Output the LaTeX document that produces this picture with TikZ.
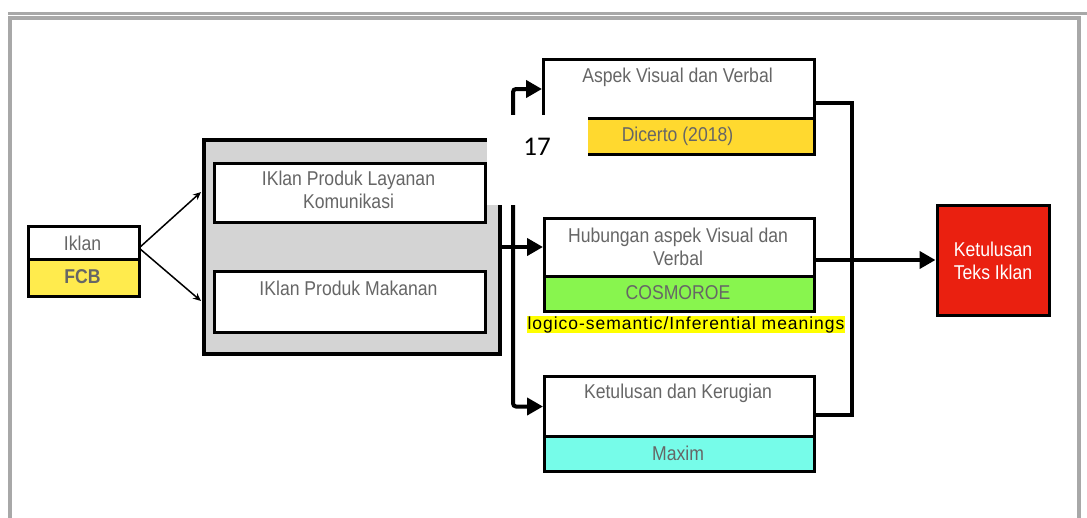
\documentclass[tikz,border=0pt]{standalone}
\usepackage{fontspec}
\setmainfont{Liberation Sans}
\newfontfamily\narrowsans{Liberation Sans}[FakeStretch=0.88]
\newfontfamily\spacedsans{Liberation Sans}[LetterSpace=5.5]
\newfontfamily\numfont{Carlito}
\usetikzlibrary{arrows.meta}

\definecolor{txtgray}{HTML}{666666}
\definecolor{fcbyellow}{HTML}{FFEB4D}
\definecolor{dicyellow}{HTML}{FFD92F}
\definecolor{cosgreen}{HTML}{88F54E}
\definecolor{maxcyan}{HTML}{76FCE9}
\definecolor{redbox}{HTML}{EA2010}
\definecolor{panelgray}{HTML}{D4D4D4}
\definecolor{framegray}{HTML}{A8A8A8}
\definecolor{hlyellow}{HTML}{FFFF00}

\tikzset{
  box/.style={draw=black, line width=3pt, inner sep=0pt},
  lbl/.style={text=txtgray, font=\fontsize{20}{23}\selectfont\narrowsans, align=center, inner sep=0pt},
  conn/.style={draw=black, line width=4pt},
  bigtip/.style={-{Triangle[length=16pt,width=17pt]}},
  thinconn/.style={draw=black, line width=1.5pt, -{Stealth[length=8pt,width=7pt]}},
}

\begin{document}
\begin{tikzpicture}[x=1pt, y=-1pt]
\useasboundingbox (0,0) rectangle (1087,517);

% outer frame
\draw[framegray, line width=3pt] (8,13) -- (1087,13);
\draw[framegray, line width=4pt] (10,518) -- (10,18) -- (1079,18) -- (1079,518);

% source box
\node[box, fill=white, minimum width=111pt, minimum height=33pt, anchor=north west] (iklan) at (27,225) {};
\node[box, fill=fcbyellow, minimum width=111pt, minimum height=37pt, anchor=north west] (fcb) at (27,258) {};
\node[lbl] (iklanT) at (82.5,243) {Iklan};
\node[lbl, font=\fontsize{20}{23}\selectfont\narrowsans\bfseries] (fcbT) at (82.5,277) {FCB};

% grey panel with the two product types
\fill[black!25] (205,141) rectangle (501,355);
\node[draw=black, line width=4pt, fill=panelgray, minimum width=296pt, minimum height=214pt, anchor=north west, inner sep=0pt] (panel) at (202,138) {};
\node[box, fill=white, minimum width=271pt, minimum height=59pt, anchor=north west] (layanan) at (213,162) {};
\node[box, fill=white, minimum width=271pt, minimum height=61pt, anchor=north west] (makanan) at (213,270) {};
\node[lbl] (layananT) at (348.5,190) {IKlan Produk Layanan\\Komunikasi};
\node[lbl] (makananT) at (348.5,288) {IKlan Produk Makanan};

\coordinate (iklanOut) at (139,248);
\coordinate (panelInA) at (201,192);
\coordinate (panelInB) at (201,301);
\draw[thinconn] (iklanOut) -- (panelInA);
\draw[thinconn] (iklanOut) -- (panelInB);

% right-hand aspect boxes
\node[box, fill=white, minimum width=271pt, minimum height=59pt, anchor=north west] (aspek) at (542,58) {};
\node[box, fill=dicyellow, minimum width=271pt, minimum height=36pt, anchor=north west] (dicerto) at (542,117) {};
\node[lbl] (aspekT) at (677.5,77) {Aspek Visual dan Verbal};
\node[lbl] (dicertoT) at (677.5,136) {Dicerto (2018)};

\node[box, fill=white, minimum width=270pt, minimum height=58pt, anchor=north west] (hub) at (543,217) {};
\node[box, fill=cosgreen, minimum width=270pt, minimum height=35pt, anchor=north west] (cosmo) at (543,275) {};
\node[lbl] (hubT) at (678,247) {Hubungan aspek Visual dan\\Verbal};
\node[lbl] (cosmoT) at (678,293) {COSMOROE};
\node[fill=hlyellow, inner sep=0pt, minimum width=318pt, minimum height=15pt, font=\fontsize{17.5}{18}\selectfont\spacedsans] (logico) at (686,324.5) {logico-semantic/Inferential meanings};

\node[box, fill=white, minimum width=270pt, minimum height=60pt, anchor=north west] (ketul) at (543,375) {};
\node[box, fill=maxcyan, minimum width=270pt, minimum height=35pt, anchor=north west] (maxim) at (543,435) {};
\node[lbl] (ketulT) at (678,393) {Ketulusan dan Kerugian};
\node[lbl] (maximT) at (678,453) {Maxim};

% result box
\node[box, fill=redbox, minimum width=112pt, minimum height=110pt] (result) at (993,260) {};
\node[lbl, text=white] (resultT) at (993,260.5) {Ketulusan\\Teks Iklan};

% distribution lines
\coordinate (bus) at (513,245);
\draw[conn, bigtip] (panel.east) -- (panel.east -| hub.west);
\draw[conn, bigtip, rounded corners=3pt] (bus) |- (aspek.west);
\draw[conn, bigtip, rounded corners=3pt] (bus) |- (ketul.west);

% collecting lines
\coordinate (aspekOut) at (813,103);
\coordinate (ketulOut) at (813,415);
\coordinate (colBot) at (852,415);
\coordinate (hubOut) at (813,260);
\draw[conn] (aspekOut) -| (colBot) -- (ketulOut);
\draw[conn, bigtip] (hubOut) -- (result.west);

% page number patch
\fill[white] (487,115) rectangle (588,205);
\node[font=\fontsize{27}{30}\selectfont\numfont, text=black, inner sep=0pt] (pagenum) at (537,147) {17};
\end{tikzpicture}
\end{document}
